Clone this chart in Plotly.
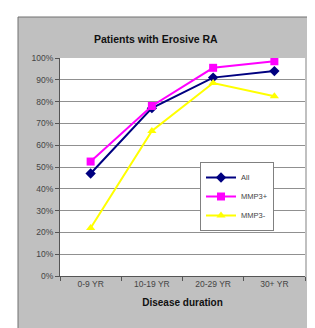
import plotly.graph_objects as go

categories = ["0-9 YR", "10-19 YR", "20-29 YR", "30+ YR"]
all_vals = [0.47, 0.77, 0.91, 0.94]
mmp3_pos = [0.525, 0.78, 0.955, 0.985]
mmp3_neg = [0.22, 0.665, 0.885, 0.825]
y_ticks = [i / 10 for i in range(11)]

FONT = "Liberation Sans Narrow, Liberation Sans, Arial, sans-serif"

fig = go.Figure()
fig.add_trace(go.Scatter(x=categories, y=all_vals, name="All", mode="lines+markers",
                         line=dict(color="#000080", width=2),
                         marker=dict(symbol="diamond", size=8, color="#000080")))
fig.add_trace(go.Scatter(x=categories, y=mmp3_pos, name="MMP3+", mode="lines+markers",
                         line=dict(color="#ff00ff", width=2),
                         marker=dict(symbol="square", size=8, color="#ff00ff")))
fig.add_trace(go.Scatter(x=categories, y=mmp3_neg, name="MMP3-", mode="lines+markers",
                         line=dict(color="#ffff00", width=2),
                         marker=dict(symbol="triangle-up", size=8, color="#ffff00")))

W, H = 315, 328
L, R, T, B = 52, 18, 50, 60
pw, ph = W - L - R, H - T - B

def px(x):
    return (x - L) / pw

def py(y):
    return (H - B - y) / ph

fig.add_shape(type="rect", xref="paper", yref="paper",
              x0=px(10), x1=px(313), y0=py(328), y1=py(9),
              fillcolor="#c0c0c0", line=dict(color="#707070", width=1), layer="below")
fig.add_shape(type="rect", xref="paper", yref="paper",
              x0=0, x1=1, y0=0, y1=1,
              fillcolor="white", line=dict(width=0), layer="below")

fig.update_layout(
    width=W, height=H,
    margin=dict(l=L, r=R, t=T, b=B),
    paper_bgcolor="white",
    plot_bgcolor="white",
    font=dict(family=FONT, size=9, color="#444444"),
    title=dict(text="<b>Patients with Erosive RA</b>", x=px(167), xanchor="center",
               y=1 - 31 / H, yanchor="middle",
               font=dict(family=FONT, size=10.5, color="#111111")),
    showlegend=True,
    legend=dict(x=px(192), y=py(154), xanchor="left", yanchor="top",
                bgcolor="white", bordercolor="#808080", borderwidth=1,
                font=dict(family=FONT, size=7.5, color="#444444"),
                itemwidth=30, tracegroupgap=4),
    xaxis=dict(type="category", range=[-0.5, 3.5], tickson="boundaries",
               ticks="outside", ticklen=4, tickcolor="#555555",
               showline=True, linecolor="#555555", linewidth=1,
               showgrid=False, tickfont=dict(size=8.5, color="#444444"),
               title=dict(text="<b>Disease duration</b>", standoff=10,
                          font=dict(family=FONT, size=10, color="#111111"))),
    yaxis=dict(range=[0, 1], tickvals=y_ticks, tickformat=".0%",
               ticks="outside", ticklen=4, tickcolor="#555555",
               showline=True, linecolor="#555555", linewidth=1,
               showgrid=True, gridcolor="#909090", gridwidth=1,
               zeroline=False, tickfont=dict(size=8.5, color="#444444")),
)

fig.write_html("out.html")
